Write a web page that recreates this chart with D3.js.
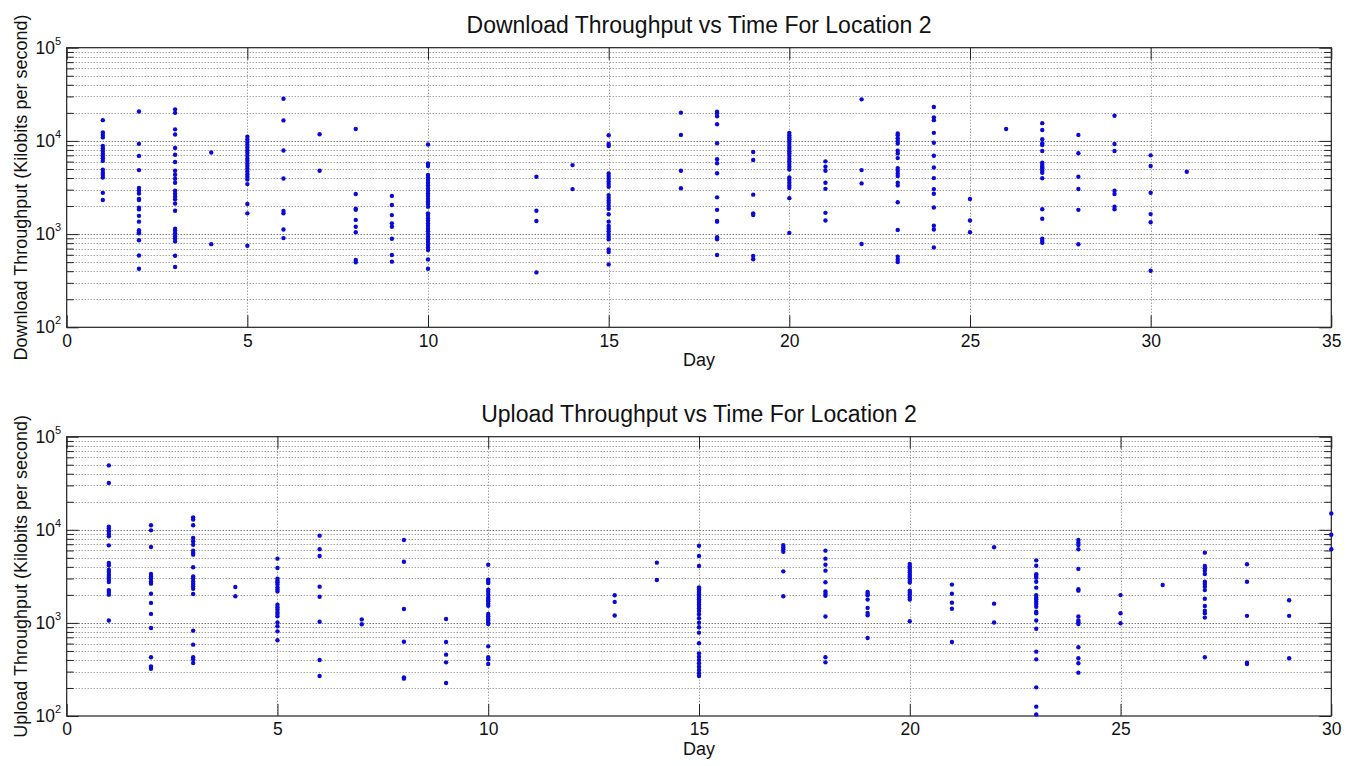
<!DOCTYPE html>
<html>
<head>
<meta charset="utf-8">
<script src="https://cdn.jsdelivr.net/npm/d3@7/dist/d3.min.js"></script>
<style>
  body { margin: 0; background: #fff; }
  svg { display: block; font-family: "Liberation Sans", Arial, sans-serif; }
  .grid line { stroke: #7a7a7a; stroke-dasharray: 1,2; stroke-width: 1; }
  .grid line.major { stroke: #3a3a3a; }
  .axis text { font-size: 17.5px; fill: #111; }
  .axis line { stroke: #222; }
  .dot { fill: #0a0ad8; }
</style>
</head>
<body>
<div id="chart"></div>
<script>
// ---- data (Kilobits per second, one array per day) ----
var downloadDays = [1, 2, 3, 4, 5, 6, 7, 8, 9, 10, 13, 14, 15, 17, 18, 19, 20, 21, 22, 23, 24, 25, 26, 27, 28, 29, 30, 31];
var downloadValues = [
   [16700, 12300, 11600, 10900, 8800, 8300, 7800, 7300, 6900, 6500, 6100, 4900, 4550, 4300, 4050, 2770, 2320],
   [20700, 9300, 6900, 4860, 3120, 2920, 2730, 2390, 2320, 1920, 1840, 1570, 1360, 1100, 1050, 1020, 860, 590, 425],
   [21800, 20000, 13300, 11700, 8400, 7100, 5930, 4790, 4330, 3930, 3560, 2920, 2710, 2520, 2360, 2130, 1780, 1140, 1090, 1020, 950, 890, 835, 585, 443],
   [7510, 780],
   [11070, 10370, 9710, 9100, 8510, 7960, 7460, 6980, 6490, 6120, 5730, 5370, 5030, 4700, 4400, 4120, 3860, 3440, 2100, 1670, 750],
   [28300, 16600, 7900, 3950, 1770, 1670, 1120, 906],
   [11800, 4790],
   [13400, 2690, 1875, 1820, 1420, 1200, 1045, 527, 498],
   [2570, 2050, 1600, 1305, 1200, 893, 597, 506],
   [9160, 5730, 5370, 4300, 4060, 3800, 3560, 3330, 3090, 2920, 2730, 2560, 2390, 2240, 2100, 1960, 1670, 1570, 1470, 1390, 1300, 1220, 1140, 1070, 1000, 936, 877, 821, 768, 720, 674, 535, 425],
   [4120, 1780, 1380, 388],
   [5500, 3040],
   [11500, 9250, 8800, 4480, 4190, 3930, 3670, 3440, 3220, 2620, 2450, 2300, 2150, 2010, 1870, 1630, 1360, 1220, 1140, 1070, 1000, 936, 877, 685, 641, 473],
   [20100, 11600, 4790, 3100],
   [20600, 19800, 18400, 15100, 9420, 6350, 5750, 4490, 2480, 1820, 1380, 1360, 925, 880, 597],
   [7600, 6240, 2650, 1670, 1600, 582, 537],
   [12200, 11500, 10900, 10400, 9870, 9250, 8650, 8240, 7720, 7340, 6880, 6430, 6030, 5640, 5280, 4940, 4060, 3800, 3560, 3330, 3120, 2430, 1030],
   [6030, 5280, 4790, 3560, 3060, 1690, 1400],
   [27900, 4860, 3500, 782],
   [12000, 11500, 10700, 10000, 9390, 7830, 7340, 6540, 5110, 4790, 4480, 4190, 3560, 3330, 2200, 1110, 571, 535, 501],
   [23100, 17900, 16700, 12200, 9550, 6920, 5190, 3990, 3040, 2710, 1930, 1230, 1120, 720],
   [2380, 1400, 1050],
   [13400],
   [15500, 13100, 10400, 9420, 9040, 7790, 5840, 5510, 5290, 5080, 4790, 4560, 3970, 1850, 1460, 893, 850, 809],
   [11600, 7360, 4130, 3050, 1820, 778],
   [18600, 9260, 7790, 2920, 2690, 1970, 1850],
   [7000, 5380, 2780, 1640, 1340, 404],
   [4670]
];

var uploadDays = [1, 2, 3, 4, 5, 6, 7, 8, 9, 10, 13, 14, 15, 17, 18, 19, 20, 21, 22, 23, 24, 25, 26, 27, 28, 29, 30];
var uploadValues = [
   [49200, 31800, 10800, 10300, 9640, 9020, 8510, 6810, 4400, 4150, 3730, 3520, 3300, 3110, 2910, 2750, 2250, 2150, 2010, 1060],
   [11200, 9870, 6530, 3350, 3160, 2990, 2790, 2640, 2060, 1640, 1250, 882, 427, 341, 322],
   [13600, 12900, 11200, 8160, 7520, 6920, 5970, 5630, 5410, 3960, 3160, 2990, 2790, 2620, 2470, 2330, 2040, 826, 584, 427, 406, 371],
   [2430, 1930],
   [4900, 3890, 2990, 2840, 2730, 2580, 2410, 2280, 2180, 1570, 1470, 1390, 1310, 1250, 1180, 1010, 919, 811, 650],
   [8650, 6180, 5240, 2450, 1910, 1030, 400, 269],
   [1090, 967],
   [7760, 4540, 1410, 628, 260, 252],
   [1100, 624, 456, 377, 226],
   [4220, 2910, 2790, 2680, 2280, 2150, 2010, 1880, 1790, 1710, 1610, 1530, 1250, 1180, 1110, 1060, 1010, 973, 560, 427, 406, 362],
   [1980, 1680, 1200],
   [4440, 2890],
   [6750, 5240, 4090, 2410, 2300, 2200, 2110, 2030, 1950, 1870, 1790, 1720, 1650, 1580, 1520, 1440, 1340, 1240, 1120, 1005, 897, 786, 604, 471, 434, 399, 368, 339, 312, 288, 269],
   [6850, 6500, 6150, 5800, 3580, 1930],
   [5970, 4900, 4220, 3640, 2730, 2180, 2060, 1960, 1170, 427, 377],
   [2150, 2060, 1980, 1780, 1450, 1280, 1210, 689],
   [4290, 4060, 3830, 3640, 3470, 3300, 3140, 2990, 2840, 2710, 2220, 2110, 2010, 1880, 1780, 1040],
   [2580, 2060, 1650, 1420, 624],
   [6490, 1610, 1010],
   [4700, 4110, 3330, 3190, 3060, 2770, 2390, 1990, 1880, 1790, 1690, 1600, 1490, 1320, 1270, 1060, 866, 491, 406, 203, 126, 104],
   [7760, 7260, 6870, 6180, 3800, 2300, 2220, 1170, 1060, 1010, 973, 547, 417, 368, 292],
   [1990, 1270, 990],
   [2550],
   [5680, 4090, 3860, 3640, 3350, 2770, 2620, 2450, 2250, 1820, 1520, 1350, 1270, 1140, 427],
   [4260, 2770, 1190, 374, 362],
   [1750, 1190, 417],
   [15000, 8850, 6180]
];

var downloadXTicks = [0, 5, 10, 15, 20, 25, 30, 35];
var uploadXTicks = [0, 5, 10, 15, 20, 25, 30];
var yMajorTicks = [1e2, 1e3, 1e4, 1e5];

var width = 1361, height = 766;

var svg = d3.select("#chart")
   .append("svg")
   .attr("width", width)
   .attr("height", height);

function flatten(days, values) {
   var pts = [];
   days.forEach(function (d, i) {
      values[i].forEach(function (v) { pts.push({ x: d, y: v }); });
   });
   return pts;
}

function drawPanel(opts) {
   var left = 66.7, right = 1331.3;
   var top = opts.top, bottom = opts.bottom;

   var xScale = d3.scaleLinear().domain([0, opts.xMax]).range([left, right]);
   var yScale = d3.scaleLog().domain([1e2, 1e5]).range([bottom, top]);

   var g = svg.append("g");

   // grid lines (dotted)
   var grid = g.append("g").attr("class", "grid");
   grid.selectAll(".hgrid")
      .data(yScale.ticks().filter(function (v) { return v > 1e2 && v < 1e5; }))
      .enter().append("line")
      .attr("class", function (v) { return Math.abs(Math.log10(v) - Math.round(Math.log10(v))) < 1e-9 ? "major" : "minor"; })
      .attr("x1", left).attr("x2", right)
      .attr("y1", function (v) { return Math.round(yScale(v)) + 0.5; })
      .attr("y2", function (v) { return Math.round(yScale(v)) + 0.5; });
   grid.selectAll(".vgrid")
      .data(opts.xTicks.filter(function (t) { return t > 0 && t < opts.xMax; }))
      .enter().append("line")
      .attr("x1", function (t) { return Math.round(xScale(t)) + 0.5; })
      .attr("x2", function (t) { return Math.round(xScale(t)) + 0.5; })
      .attr("y1", top).attr("y2", bottom);

   // inward ticks on all four sides
   var minorTicks = yScale.ticks().filter(function (v) { return yMajorTicks.indexOf(v) < 0; });

   var xAxisB = d3.axisBottom(xScale).tickValues(opts.xTicks).tickSize(-12).tickSizeOuter(0).tickPadding(7);
   var xAxisT = d3.axisTop(xScale).tickValues(opts.xTicks).tickSize(-12).tickSizeOuter(0).tickFormat("");
   var yAxisL = d3.axisLeft(yScale).tickValues(yMajorTicks).tickSize(-12).tickSizeOuter(0).tickFormat("");
   var yAxisR = d3.axisRight(yScale).tickValues(yMajorTicks).tickSize(-12).tickSizeOuter(0).tickFormat("");
   var yMinL = d3.axisLeft(yScale).tickValues(minorTicks).tickSize(-7).tickSizeOuter(0).tickFormat("");
   var yMinR = d3.axisRight(yScale).tickValues(minorTicks).tickSize(-7).tickSizeOuter(0).tickFormat("");

   var gxb = g.append("g").attr("class", "axis").attr("transform", "translate(0," + bottom + ")").call(xAxisB);
   g.append("g").attr("class", "axis").attr("transform", "translate(0," + top + ")").call(xAxisT);
   g.append("g").attr("class", "axis").attr("transform", "translate(" + left + ",0)").call(yAxisL);
   g.append("g").attr("class", "axis").attr("transform", "translate(" + right + ",0)").call(yAxisR);
   g.append("g").attr("class", "axis").attr("transform", "translate(" + left + ",0)").call(yMinL);
   g.append("g").attr("class", "axis").attr("transform", "translate(" + right + ",0)").call(yMinR);
   g.selectAll(".axis .domain").remove();
   gxb.selectAll("text").attr("font-size", 17.5).attr("font-family", "Liberation Sans, Arial, sans-serif");

   // y tick labels as 10^k
   var yl = g.append("g").attr("class", "axis");
   yMajorTicks.forEach(function (v) {
      var t = yl.append("text")
         .attr("x", 61)
         .attr("y", yScale(v) + 6)
         .attr("text-anchor", "end");
      t.append("tspan").text("10");
      t.append("tspan").attr("dy", -9).attr("font-size", 11).text(Math.round(Math.log10(v)));
   });

   // axes box
   g.append("rect")
      .attr("x", left).attr("y", top)
      .attr("width", right - left).attr("height", bottom - top)
      .attr("fill", "none")
      .attr("stroke", "#222")
      .attr("stroke-width", 1.2);

   // points
   g.append("g")
      .selectAll(".dot")
      .data(flatten(opts.days, opts.values))
      .enter().append("circle")
      .attr("class", "dot")
      .attr("r", 2.2)
      .attr("cx", function (d) { return xScale(d.x); })
      .attr("cy", function (d) { return yScale(d.y); });

   // title and labels
   svg.append("text")
      .attr("x", (left + right) / 2)
      .attr("y", top - 14.5)
      .attr("text-anchor", "middle")
      .attr("font-size", 23)
      .attr("fill", "#111")
      .text(opts.title);

   svg.append("text")
      .attr("x", (left + right) / 2)
      .attr("y", bottom + 39)
      .attr("text-anchor", "middle")
      .attr("font-size", 18)
      .attr("fill", "#111")
      .text("Day");

   svg.append("text")
      .attr("transform", "translate(27," + ((top + bottom) / 2) + ") rotate(-90)")
      .attr("text-anchor", "middle")
      .attr("font-size", 18)
      .attr("fill", "#111")
      .text(opts.yLabel);
}

drawPanel({
   top: 47.7, bottom: 327.3, xMax: 35, xTicks: downloadXTicks,
   days: downloadDays, values: downloadValues,
   title: "Download Throughput vs Time For Location 2",
   yLabel: "Download Throughput (Kilobits per second)"
});

drawPanel({
   top: 436.7, bottom: 716, xMax: 30, xTicks: uploadXTicks,
   days: uploadDays, values: uploadValues,
   title: "Upload Throughput vs Time For Location 2",
   yLabel: "Upload Throughput (Kilobits per second)"
});
</script>
</body>
</html>
